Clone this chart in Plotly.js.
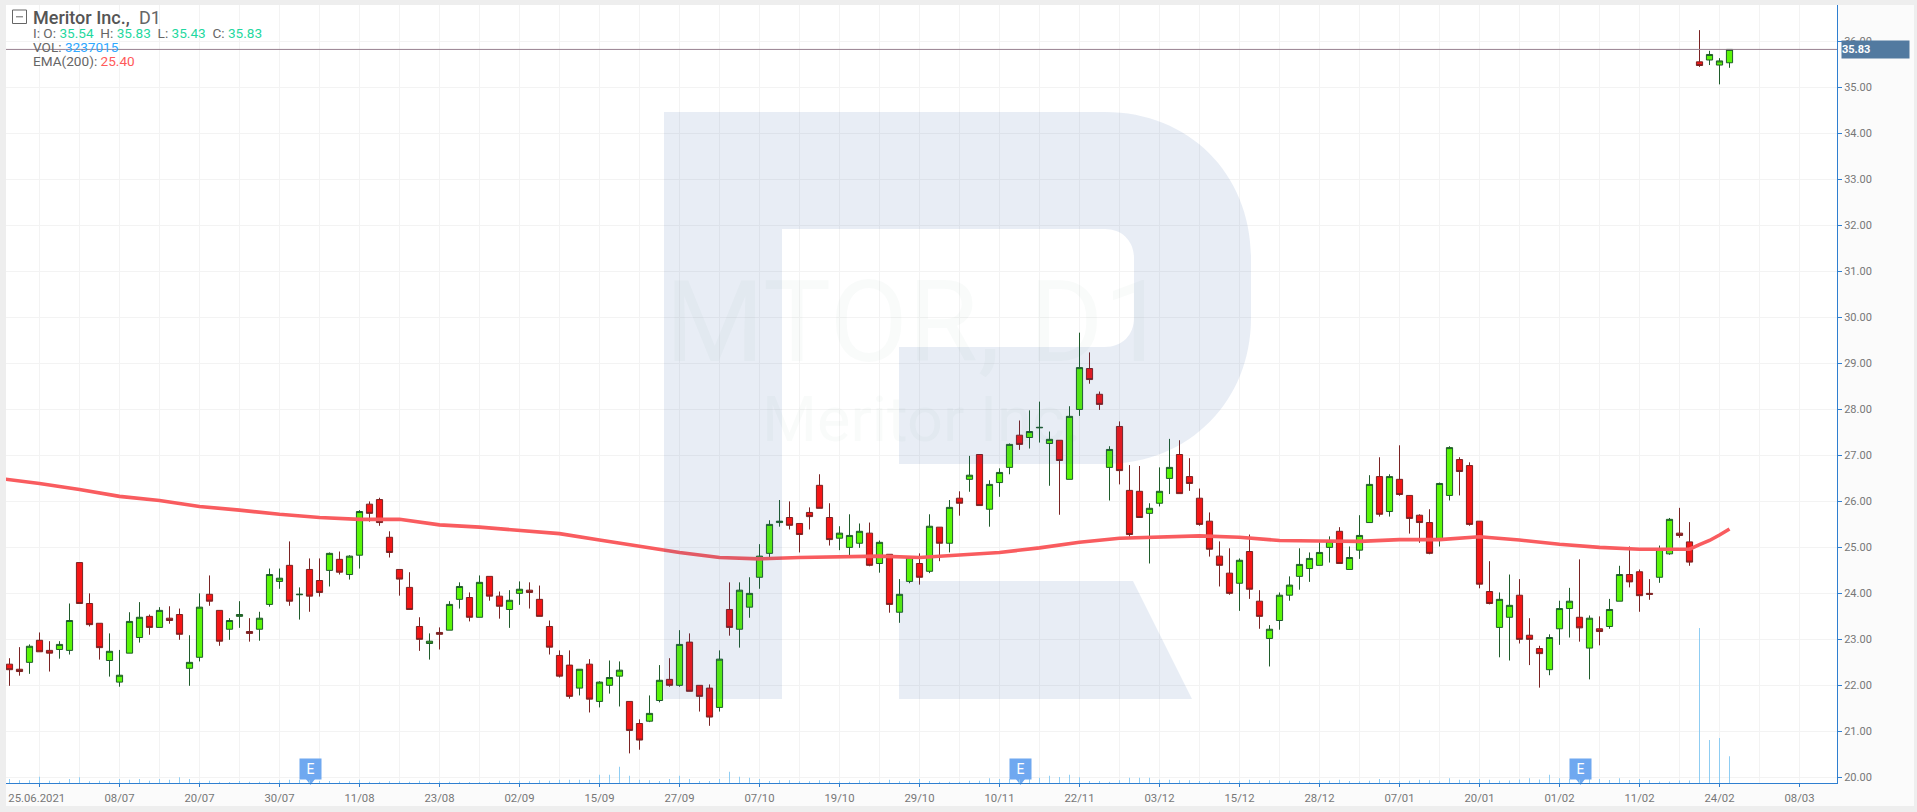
<!DOCTYPE html>
<html><head><meta charset="utf-8">
<script src="https://cdn.plot.ly/plotly-3.0.1.min.js"></script>
<style>
html,body{margin:0;padding:0;background:#eeeeee;overflow:hidden;width:1917px;height:812px}
#frame{position:absolute;left:6px;top:5px;width:1908px;height:801px}
</style></head><body><div id="frame"></div>
<script>
const opens=[22.46,22.35,22.50,22.98,22.76,22.78,22.76,24.67,23.78,23.35,
22.54,22.07,22.70,23.04,23.50,23.26,23.46,23.54,22.37,22.61,
23.98,23.63,23.22,23.50,23.17,23.22,23.76,24.26,24.61,23.97,
24.52,24.28,24.50,24.74,24.41,24.83,25.94,26.04,25.22,24.52,
24.13,23.28,22.91,23.15,23.20,23.87,23.91,23.48,24.37,23.94,
23.65,24.00,24.07,23.87,23.28,22.65,22.44,21.94,22.46,21.65,
22.00,22.20,21.65,21.17,21.22,21.67,22.13,22.00,22.94,22.00,
21.94,21.52,23.65,23.22,23.70,24.35,24.87,25.54,25.65,25.52,
25.76,26.35,25.65,25.20,25.00,25.09,25.31,24.65,24.85,23.59,
24.26,24.65,24.48,25.44,25.09,26.07,26.48,27.02,25.83,26.41,
26.74,27.44,27.39,27.60,27.26,27.33,26.48,28.00,28.89,28.33,
26.74,27.63,26.24,26.22,25.74,25.96,26.50,27.02,26.54,26.07,
25.57,24.81,24.44,24.22,24.91,23.83,23.02,23.41,23.96,24.37,
24.54,24.61,25.00,25.35,24.52,24.94,25.54,26.54,25.78,26.48,
26.13,25.70,25.54,25.17,26.13,26.91,26.78,25.57,24.04,23.26,
23.48,23.96,23.09,22.80,22.34,23.23,23.67,23.48,22.81,23.23,
23.28,23.83,24.41,24.47,24.00,24.35,24.86,25.31,25.12,35.56,
35.60,35.49,35.54];
const closes=[22.34,22.30,22.85,22.73,22.70,22.89,23.41,23.78,23.32,22.82,
22.74,22.22,23.39,23.48,23.26,23.63,23.41,23.11,22.50,23.70,
23.83,22.96,23.41,23.54,23.13,23.46,24.41,24.33,23.83,23.98,
23.94,24.02,24.87,24.46,24.81,25.78,25.74,25.54,24.89,24.31,
23.65,23.00,22.96,23.11,23.76,24.15,23.48,24.24,23.94,23.72,
23.85,24.09,24.02,23.50,22.83,22.20,21.76,22.35,21.70,22.07,
22.17,22.33,21.02,20.81,21.39,22.11,22.00,22.89,21.87,21.76,
21.31,22.57,23.26,24.07,24.00,24.81,25.50,25.57,25.48,25.28,
25.67,25.85,25.17,25.31,25.26,25.35,24.61,25.11,23.76,23.98,
24.78,24.35,25.46,25.09,25.87,25.96,26.57,25.91,26.37,26.63,
27.24,27.24,27.52,27.61,27.35,26.89,27.85,28.91,28.65,28.11,
27.13,26.67,25.28,25.65,25.85,26.22,26.74,26.17,26.39,25.50,
24.96,24.61,24.00,24.72,24.09,23.50,23.22,23.96,24.18,24.63,
24.76,24.89,25.13,24.65,24.78,25.26,26.37,25.72,26.54,26.15,
25.63,25.54,24.87,26.39,27.17,26.65,25.50,24.20,23.78,23.87,
23.74,23.00,23.00,22.69,23.04,23.67,23.83,23.25,23.46,23.17,
23.65,24.41,24.25,23.95,23.98,24.96,25.61,25.26,24.68,35.48,
35.72,35.58,35.83];
const highs=[22.59,22.83,22.89,23.15,22.96,22.96,23.78,24.67,24.00,23.35,
23.13,22.77,23.59,23.81,23.54,23.70,23.72,23.67,23.09,24.00,
24.39,23.63,23.46,23.83,23.46,23.60,24.54,24.54,25.13,24.13,
24.76,24.76,24.89,24.91,24.83,25.81,26.00,26.08,25.35,24.52,
24.46,23.48,23.13,23.26,23.83,24.24,24.02,24.39,24.37,24.04,
24.07,24.26,24.24,24.17,23.41,22.76,22.76,22.35,22.57,22.09,
22.54,22.52,21.65,21.26,21.78,22.44,22.59,23.20,23.13,22.00,
22.02,22.76,24.24,24.24,24.35,25.07,25.59,26.03,26.00,25.52,
25.87,26.59,25.96,25.46,25.72,25.52,25.54,25.15,24.85,24.31,
24.81,24.87,25.72,25.44,26.03,26.22,26.99,27.02,26.46,26.72,
27.26,27.76,27.98,28.17,27.52,27.33,28.07,29.67,29.24,28.39,
27.20,27.74,26.79,26.77,25.96,26.74,27.36,27.33,26.94,26.28,
25.76,25.13,24.98,24.76,25.28,24.07,23.31,24.02,24.37,24.98,
24.89,25.11,25.24,25.44,25.02,25.70,26.57,26.96,26.59,27.22,
26.13,25.72,25.83,26.41,27.20,26.96,26.85,25.57,24.70,24.02,
24.41,24.31,23.46,22.86,23.11,23.84,24.12,24.74,23.52,23.50,
23.88,24.60,25.02,24.52,24.31,25.04,25.64,25.86,25.55,36.25,
35.80,35.64,35.83];
const lows=[21.99,22.21,22.25,22.73,22.30,22.58,22.67,23.78,23.28,22.56,
22.19,21.97,22.70,22.93,23.10,23.26,23.34,22.99,21.99,22.52,
23.73,22.86,22.99,23.25,22.95,22.97,23.71,24.10,23.73,23.43,
23.60,23.93,24.15,24.41,24.30,24.54,25.56,25.47,24.78,23.95,
23.65,22.75,22.56,22.78,23.20,23.67,23.39,23.48,23.84,23.45,
23.25,23.75,23.67,23.50,22.67,22.17,21.71,21.78,21.41,21.52,
21.82,21.54,20.52,20.60,21.20,21.63,21.97,21.97,21.87,21.43,
21.12,21.43,23.08,22.82,23.47,24.10,24.73,25.45,25.39,24.89,
25.39,25.85,25.04,24.94,24.78,24.99,24.59,24.45,23.58,23.36,
24.22,24.19,24.44,24.70,24.89,25.69,26.21,25.91,25.45,26.10,
26.59,27.12,27.15,27.28,26.34,25.71,26.48,27.86,28.56,27.99,
26.02,26.37,25.23,25.65,24.65,25.89,26.16,26.17,26.23,25.47,
24.80,24.15,23.97,23.62,23.88,23.23,22.41,23.21,23.84,24.08,
24.25,24.61,24.67,24.65,24.52,24.75,25.54,25.67,25.67,26.12,
25.30,25.10,24.85,25.02,26.02,26.13,25.47,24.11,23.76,22.61,
22.54,22.91,22.44,21.95,22.22,22.88,23.04,22.95,22.13,22.87,
23.23,23.83,24.13,23.60,23.86,24.23,24.84,25.21,24.60,35.45,
35.49,35.07,35.43];
// volume, thousands
const volumes=[485,323,323,767,283,200,485,687,200,283,200,485,404,485,283,485,404,687,485,200,
283,160,121,242,160,160,160,323,404,404,323,242,242,200,200,404,160,160,200,200,160,
283,160,200,160,160,121,121,121,283,242,283,200,323,283,404,404,404,404,1010,1010,1979,889,404,323,242,485,889,485,242,242,485,1373,767,646,485,242,323,323,200,200,323,
200,200,160,323,121,160,404,200,200,485,242,160,160,160,283,283,566,485,485,485,606,646,889,727,1010,687,242,242,160,323,646,646,646,404,404,323,323,242,160,323,242,
283,404,242,323,200,283,242,160,323,283,404,242,200,283,485,323,242,283,404,323,200,566,404,323,485,404,283,
315,436,570,436,1006,570,497,436,497,497,376,570,376,497,376,194,194,315,315,18785,5211,5454,3237];
// EMA(200) read at these candle numbers
const emaAt=[0,4,8,12,16,20,24,28,32,36,40,44,48,52,56,60,64,68,72,76,80,84,88,92,96,100,104,108,112,116,120,124,128,132,136,140,144,148,152,156,160,164,168,169,170,171,172,173];
const emaVal=[26.50,26.39,26.26,26.11,26.02,25.89,25.81,25.72,25.65,25.61,25.61,25.49,25.44,25.37,25.30,25.16,25.02,24.89,24.78,24.75,24.78,24.80,24.81,24.78,24.83,24.89,24.99,25.11,25.20,25.23,25.25,25.22,25.15,25.14,25.13,25.17,25.17,25.23,25.16,25.07,25.00,24.96,24.96,24.96,25.06,25.15,25.27,25.40];
const tickIdx=[4,12,20,28,36,44,52,60,68,76,84,92,100,108,116,124,132,140,148,156,164,172,180];
const tickLabels=['25.06.2021\u00a0\u00a0','08/07','20/07','30/07','11/08','23/08','02/09','15/09','27/09','07/10','19/10','29/10','10/11','22/11','03/12','15/12','28/12','07/01','20/01','01/02','11/02','24/02','08/03'];
const earningsIdx=[31,102,158];
const title='Meritor Inc.,', period='D1', ticker='MTOR, D1', company='Meritor Inc.';
const emaLast=25.40, volLast=3237015;

const idx=opens.map((_,i)=>i+1);
const last=idx.length-1;
const FONT='Roboto, sans-serif';
const AX='#2f7fd0';
// page-pixel to paper helpers for furniture
const L=6,T=5,PW=1831,PH=778;
const px=x=>(x-L)/PW, py=y=>1-(y-T)/PH;
const P=(x,y)=>px(x).toFixed(5)+','+py(y).toFixed(5);
const wmFill='rgba(30,80,160,0.10)';
const rBody='M'+P(664,112)+' L'+P(1105,112)+' C'+P(1190,112)+' '+P(1251,175)+' '+P(1251,258)+' L'+P(1251,318)+' C'+P(1251,400)+' '+P(1190,464)+' '+P(1105,464)+' L'+P(899,464)+' L'+P(899,347)+' L'+P(1105,347)+' C'+P(1122,347)+' '+P(1134,335)+' '+P(1134,318)+' L'+P(1134,258)+' C'+P(1134,241)+' '+P(1122,229)+' '+P(1105,229)+' L'+P(782,229)+' L'+P(782,699)+' L'+P(664,699)+' Z';
const rLeg='M'+P(899,581)+' L'+P(1133,581)+' L'+P(1192,699)+' L'+P(899,699)+' Z';

const shapes=[
 {type:'path',xref:'paper',yref:'paper',path:rBody,fillcolor:wmFill,line:{width:0},layer:'above'},
 {type:'path',xref:'paper',yref:'paper',path:rLeg,fillcolor:wmFill,line:{width:0},layer:'above'},
 {type:'line',xref:'paper',yref:'y',x0:0,x1:1,y0:closes[last],y1:closes[last],line:{color:'#97808f',width:1},layer:'above'},
 {type:'rect',xref:'paper',yref:'paper',x0:px(12.5),x1:px(26.5),y0:py(10),y1:py(23.5),line:{color:'#666666',width:1},fillcolor:'rgba(255,255,255,0)'},
 {type:'line',xref:'paper',yref:'paper',x0:px(16),x1:px(23),y0:py(16.8),y1:py(16.8),line:{color:'#666666',width:1}}
];
const GREY='#666666', TEAL='#1fd8a0';
const sp=(c,t)=>'<span style="color:'+c+'">'+t+'</span>';
const f2=v=>v.toFixed(2);
const nb='\u00a0';
const ohlcLine='I:'+nb+'O:'+nb+sp(TEAL,f2(opens[last]))+nb+nb+'H:'+nb+sp(TEAL,f2(highs[last]))+nb+nb+'L:'+nb+sp(TEAL,f2(lows[last]))+nb+nb+'C:'+nb+sp(TEAL,f2(closes[last]));
const note=(x,y,text,size,color,extra)=>Object.assign({xref:'paper',yref:'paper',x:px(x),y:py(y),xanchor:'left',yanchor:'middle',text,showarrow:false,align:'left',borderpad:0,font:{family:FONT,size,color}},extra||{});
const annotations=[
 note(664,322,ticker,114,'rgba(60,130,80,0.032)'),
 note(761,419,company,63,'rgba(60,130,80,0.032)'),
 note(31.5,18,title,18,'#555555',{font:{family:FONT,size:18,color:'#555555',weight:500}}),
 note(137.5,18,period,18,'#666666'),
 note(31.5,33,ohlcLine,13.6,GREY),
 note(31.5,47,'VOL:'+nb+sp('#2fa8ff',String(volLast)),13.6,GREY),
 note(31.5,61,'EMA(200):'+nb+sp('#ff5a5a',f2(emaLast)),13.6,GREY),
 {xref:'paper',yref:'y',x:px(1841),y:closes[last],xanchor:'left',yanchor:'middle',text:'<b>'+f2(closes[last])+'</b>',showarrow:false,align:'left',width:67,height:17,bgcolor:'#527aa0',borderpad:0,font:{family:FONT,size:11,color:'#ffffff'}}
].concat(earningsIdx.map(k=>({xref:'x',yref:'y',x:k+0.1,y:20.18,xanchor:'center',yanchor:'middle',text:'E',showarrow:false,width:21,height:20,bgcolor:'#6fa8f0',borderpad:0,font:{family:FONT,size:14,color:'#ffffff'}})));

const traces=[
 {type:'bar',x:idx,y:volumes,yaxis:'y2',width:0.1,marker:{color:'#8fcdf3',line:{width:0}},hoverinfo:'skip',showlegend:false},
 {type:'scatter',mode:'lines',x:emaAt,y:emaVal,line:{color:'#f95c5f',width:3.6},hoverinfo:'skip',showlegend:false},
 {type:'candlestick',x:idx,open:opens,high:highs,low:lows,close:closes,whiskerwidth:0,
  increasing:{line:{color:'#1f5c2b',width:1},fillcolor:'#5af508'},
  decreasing:{line:{color:'#7a2323',width:1},fillcolor:'#f51616'},showlegend:false},
 {type:'scatter',mode:'markers',x:earningsIdx.map(k=>k+0.1),y:earningsIdx.map(()=>19.94),marker:{symbol:'triangle-down',size:10,color:'#6fa8f0',line:{width:0}},hoverinfo:'skip',showlegend:false,cliponaxis:false}
];
const layout={
 width:1908,height:801,margin:{l:0,r:77,t:0,b:23,pad:0},autosize:false,showlegend:false,
 paper_bgcolor:'#fbfbfb',plot_bgcolor:'#ffffff',font:{family:FONT,size:11,color:'#777777'},
 xaxis:{range:[0.65,183.75],tickmode:'array',tickvals:tickIdx,ticktext:tickLabels,ticks:'outside',ticklen:3,tickwidth:1,tickcolor:AX,
  showline:true,linecolor:AX,linewidth:1,showgrid:true,gridcolor:'#f3f3f3',gridwidth:1,zeroline:false,
  minor:{tickmode:'linear',tick0:0,dtick:4,showgrid:true,gridcolor:'#f3f3f3',gridwidth:1,ticks:''},
  rangeslider:{visible:false},tickfont:{family:FONT,size:11.3,color:'#777777'},ticklabelstandoff:1,tickangle:0},
 yaxis:{range:[19.876,36.796],side:'right',dtick:1,tick0:20,tickformat:'.2f',ticks:'outside',ticklen:4,tickwidth:1,tickcolor:AX,
  showline:true,linecolor:AX,linewidth:1,showgrid:true,gridcolor:'#f3f3f3',gridwidth:1,zeroline:false,tickfont:{family:FONT,size:11,color:'#777777'}},
 yaxis2:{overlaying:'y',side:'left',range:[0,94294],visible:false,fixedrange:true},
 shapes,annotations,dragmode:false,boxgap:0.12
};
Plotly.newPlot('frame',traces,layout,{displayModeBar:false,staticPlot:true});
</script></body></html>
